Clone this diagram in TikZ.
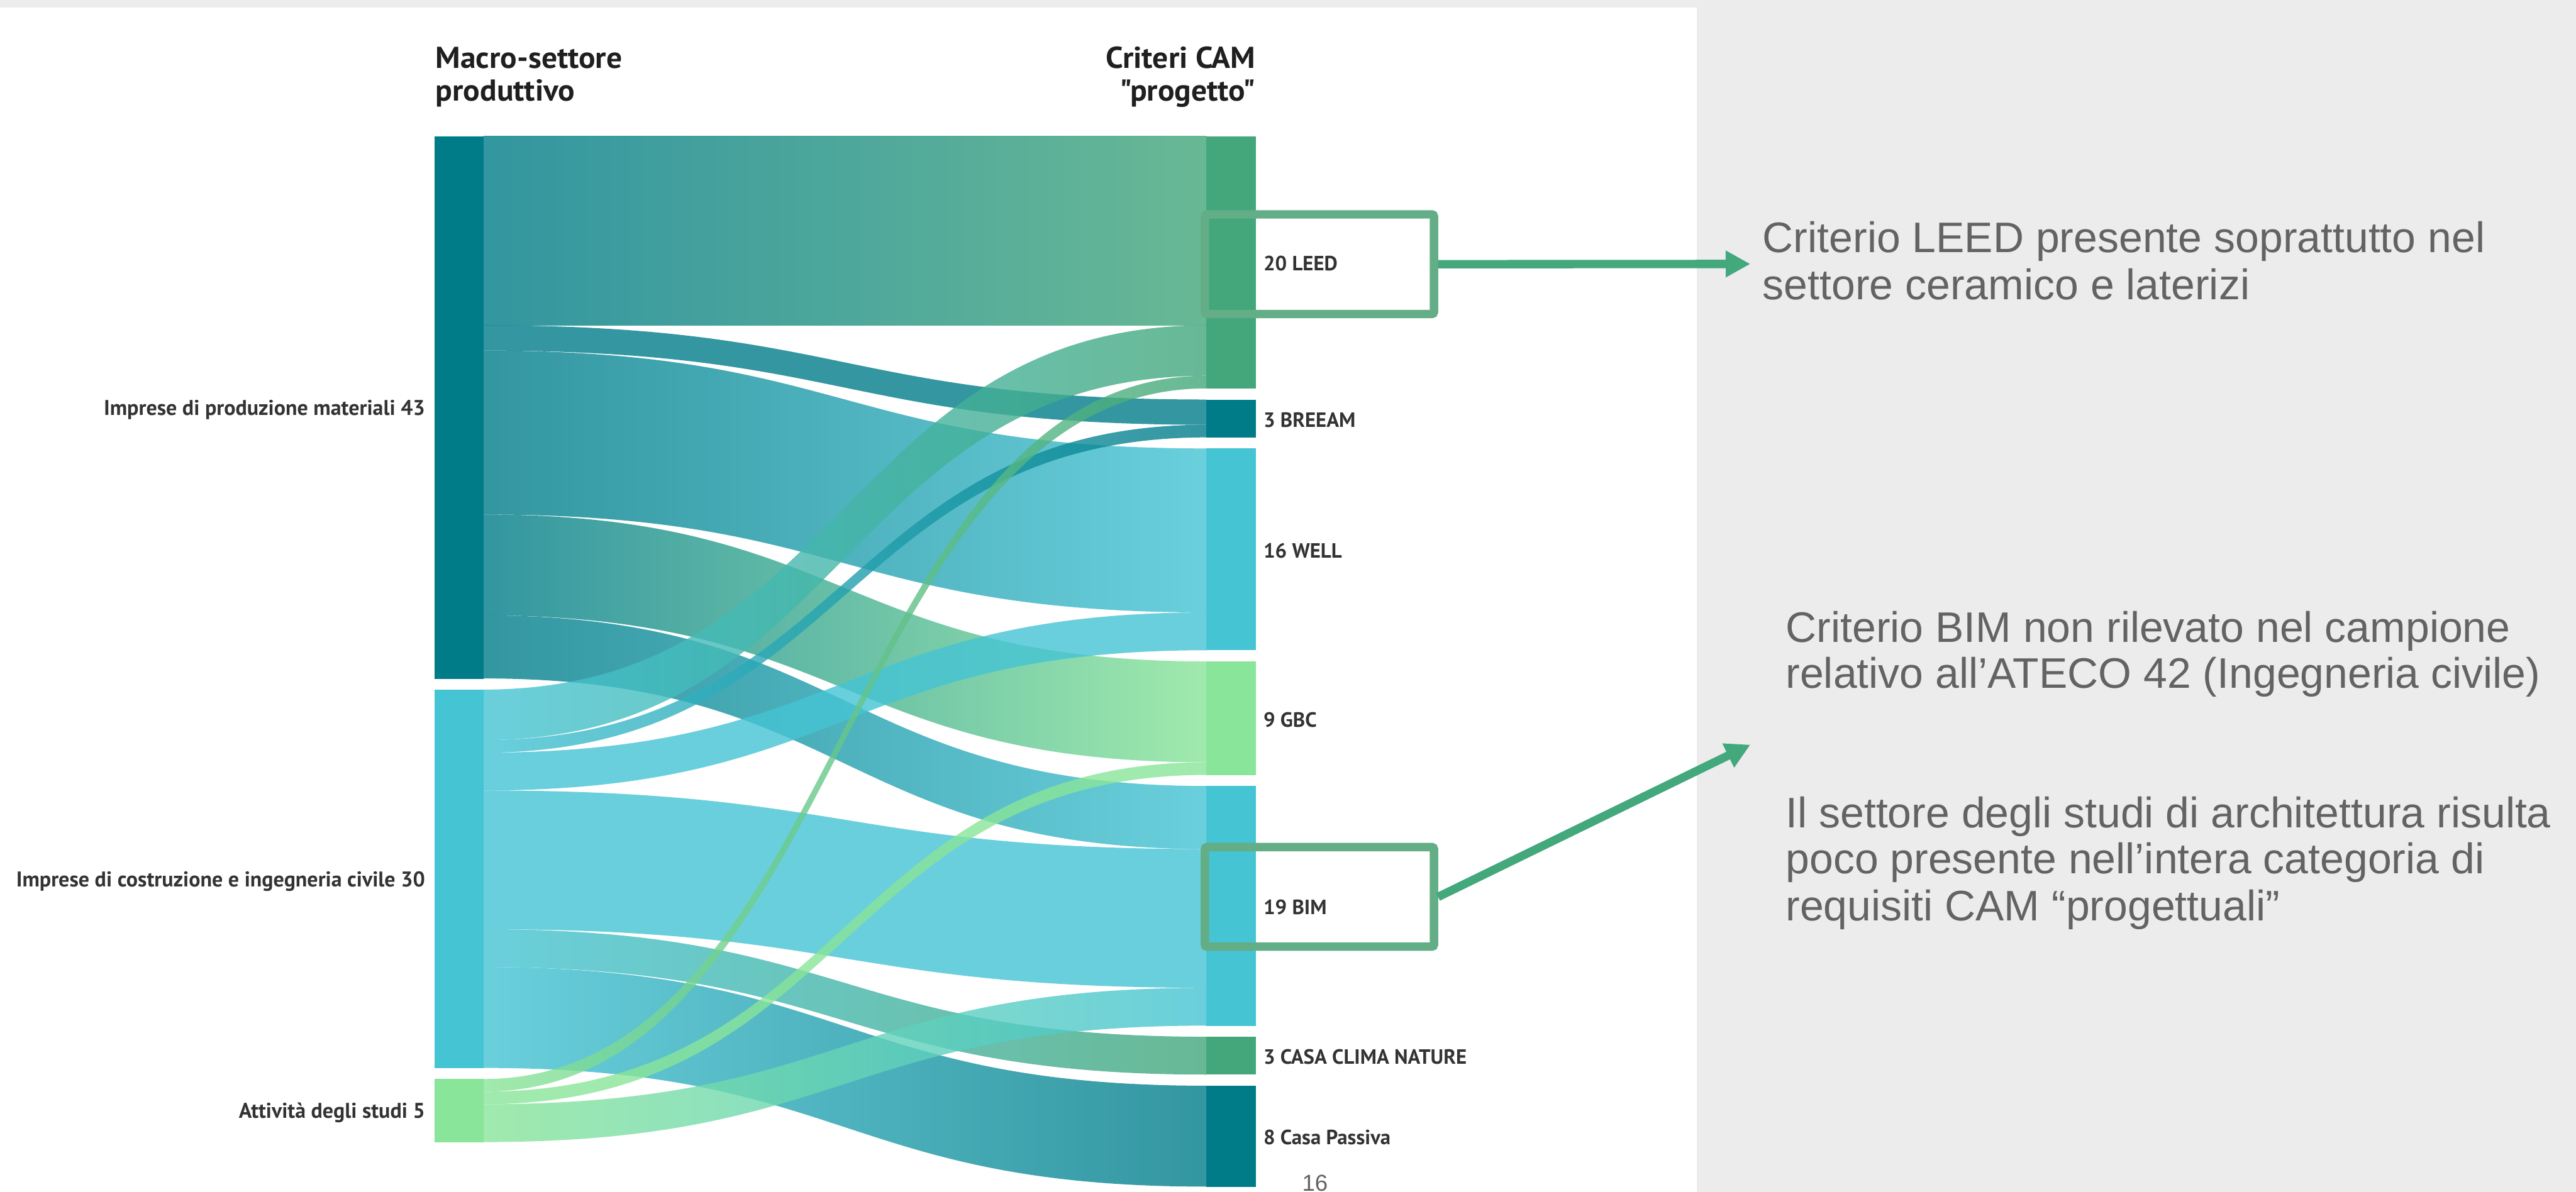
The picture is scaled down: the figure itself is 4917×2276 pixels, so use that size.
\documentclass[tikz,border=0pt]{standalone}
\usepackage{fontspec}
\usetikzlibrary{arrows.meta}
\newfontfamily\lblfont{PT Sans}
\newfontfamily\hdrfont[FakeStretch=1.03]{PT Sans}
\newfontfamily\annfont{Liberation Sans}
\definecolor{bggray}{HTML}{ECECEC}
\definecolor{cteal}{HTML}{007C89}
\definecolor{ccyan}{HTML}{45C4D4}
\definecolor{clgreen}{HTML}{89E599}
\definecolor{cmgreen}{HTML}{43A77B}
\definecolor{boxgreen}{HTML}{63AE86}
\definecolor{arrgreen}{HTML}{43A87C}
\definecolor{anntext}{HTML}{636363}
\definecolor{lbltext}{HTML}{333333}
% sankey ribbon: #1 source colour, #2 target colour, #3 y at source, #4 y at target, #5 width
\newcommand\sklink[5]{%
  \shade[left color=#1, right color=#2, fill opacity=0.8]
    (923,#3) .. controls (1613,#3) and (1613,#4) .. (2303,#4)
    -- (2303,{#4+#5}) .. controls (1613,{#4+#5}) and (1613,{#3+#5}) .. (923,{#3+#5}) -- cycle;}
\begin{document}
\begin{tikzpicture}[x=0.01cm,y=-0.01cm,
  bar/.style={anchor=north west, inner sep=0pt, outer sep=0pt, minimum width=0.94cm},
  srclabel/.style={anchor=base east, inner sep=0pt, text=lbltext, font=\lblfont\bfseries\fontsize{11.6}{13}\selectfont},
  tgtlabel/.style={anchor=base west, inner sep=0pt, text=lbltext, font=\lblfont\bfseries\fontsize{11.2}{13}\selectfont},
  header/.style={inner sep=0pt, text=black!88, font=\hdrfont\bfseries\fontsize{16.4}{19}\selectfont},
  annline/.style={anchor=base west, inner sep=0pt, text=anntext, font=\annfont\fontsize{23.2}{27}\selectfont},
  callout/.style={draw=boxgreen, line width=0.16cm, rounded corners=0.04cm, minimum width=4.37cm, minimum height=1.90cm, inner sep=0pt},
  annarrow/.style={draw=arrgreen, line width=0.16cm, -{Triangle[length=0.47cm,width=0.48cm]}}
]
\useasboundingbox (0,0) rectangle (4917,2276);
\clip (0,0) rectangle (4917,2276);
\fill[bggray] (0,0) rectangle (4917,2276);
\fill[white] (0,15) rectangle (3239,2276);

% links
\sklink{cteal}{cmgreen}{260}{260}{361.2}
\sklink{cteal}{cteal}{621.2}{762.9}{48.16}
\sklink{cteal}{ccyan}{669.36}{856.3}{313.04}
\sklink{cteal}{clgreen}{982.4}{1262.9}{192.64}
\sklink{cteal}{ccyan}{1175.04}{1500.8}{120.4}
\sklink{ccyan}{cmgreen}{1316.7}{621.2}{96.32}
\sklink{ccyan}{cteal}{1413.02}{811.06}{24.08}
\sklink{ccyan}{ccyan}{1437.1}{1169.34}{72.24}
\sklink{ccyan}{ccyan}{1509.34}{1621.2}{264.88}
\sklink{ccyan}{cmgreen}{1774.22}{1979.6}{72.24}
\sklink{ccyan}{cteal}{1846.46}{2073.1}{192.64}
\sklink{clgreen}{cmgreen}{2060.3}{717.52}{24.08}
\sklink{clgreen}{clgreen}{2084.38}{1455.54}{24.08}
\sklink{clgreen}{ccyan}{2108.46}{1886.08}{72.24}

% bars
\node[bar, fill=cteal, minimum height=10.3544cm] (P) at (829,260) {};
\node[bar, fill=ccyan, minimum height=7.224cm] (C) at (829,1316.7) {};
\node[bar, fill=clgreen, minimum height=1.204cm] (A) at (829,2060.3) {};
\node[bar, fill=cmgreen, minimum height=4.816cm] (LEED) at (2303,260) {};
\node[bar, fill=cteal, minimum height=0.7224cm] (BREEAM) at (2303,762.9) {};
\node[bar, fill=ccyan, minimum height=3.8528cm] (WELL) at (2303,856.3) {};
\node[bar, fill=clgreen, minimum height=2.1672cm] (GBC) at (2303,1262.9) {};
\node[bar, fill=ccyan, minimum height=4.5752cm] (BIM) at (2303,1500.8) {};
\node[bar, fill=cmgreen, minimum height=0.7224cm] (CASA) at (2303,1979.6) {};
\node[bar, fill=cteal, minimum height=1.9264cm] (PASS) at (2303,2073.1) {};

% headers
\node[header, anchor=base west] (h1a) at (831,130) {Macro-settore};
\node[header, anchor=base west] (h1b) at (831,193) {produttivo};
\node[header, anchor=base east] (h2a) at (2397,130) {Criteri CAM};
\node[header, anchor=base east] (h2b) at (2397,193) {"progetto"};

% node labels
\node[srclabel] (Plbl) at (812,793) {Imprese di produzione materiali 43};
\node[srclabel] (Clbl) at (812,1693) {Imprese di costruzione e ingegneria civile 30};
\node[srclabel] (Albl) at (812,2135.5) {Attività degli studi 5};
\node[tgtlabel] (LEEDlbl) at (2411,517.3) {20 LEED};
\node[tgtlabel] (BREEAMlbl) at (2411,815.5) {3 BREEAM};
\node[tgtlabel] (WELLlbl) at (2411,1065.5) {16 WELL};
\node[tgtlabel] (GBClbl) at (2411,1387.8) {9 GBC};
\node[tgtlabel] (BIMlbl) at (2411,1746.1) {19 BIM};
\node[tgtlabel] (CASAlbl) at (2411,2032.2) {3 CASA CLIMA NATURE};
\node[tgtlabel] (PASSlbl) at (2411,2185.9) {8 Casa Passiva};

% page number
\node[anchor=base, inner sep=0pt, text=anntext, font=\annfont\fontsize{12.5}{14}\selectfont] (pg) at (2510,2274) {16};

% callouts
\node[callout] (leedbox) at (2518.5,504.5) {};
\node[callout] (bimbox) at (2518.5,1712.5) {};
\coordinate (leedtip) at (3341,504);
\coordinate (bimtip) at (3341,1422);
\draw[annarrow] (leedbox.east) -- (leedtip);
\draw[annarrow] (bimbox.east) -- (bimtip);

% annotation texts
\node[annline] (t1a) at (3364,482) {Criterio LEED presente soprattutto nel};
\node[annline] (t1b) at (3364,572) {settore ceramico e laterizi};
\node[annline] (t2a) at (3408,1226) {Criterio BIM non rilevato nel campione};
\node[annline] (t2b) at (3408,1314) {relativo all’ATECO 42 (Ingegneria civile)};
\node[annline] (t3a) at (3408,1580) {Il settore degli studi di architettura risulta};
\node[annline] (t3b) at (3408,1668) {poco presente nell’intera categoria di};
\node[annline] (t3c) at (3408,1758) {requisiti CAM “progettuali”};
\end{tikzpicture}
\end{document}
